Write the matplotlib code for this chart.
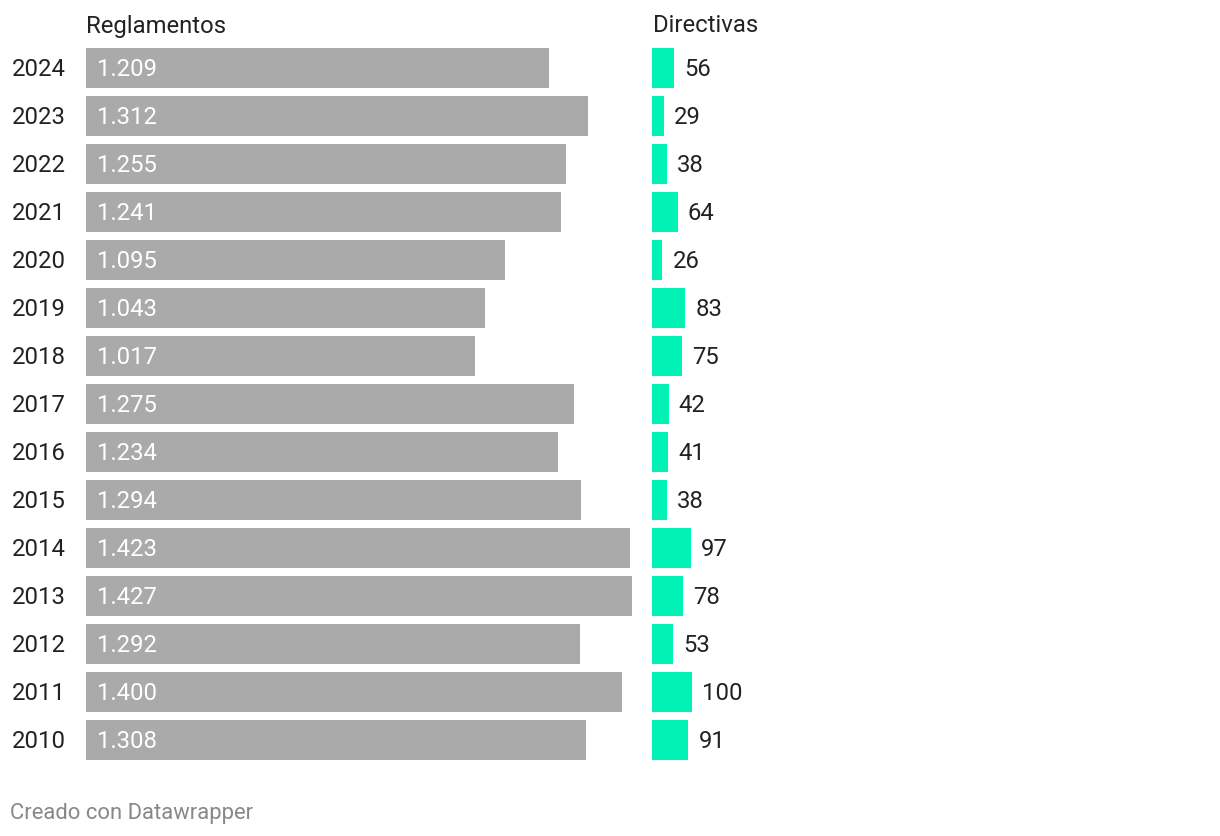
import matplotlib
matplotlib.use("Agg")
import matplotlib.pyplot as plt

years = ["2024", "2023", "2022", "2021", "2020", "2019", "2018", "2017",
         "2016", "2015", "2014", "2013", "2012", "2011", "2010"]
reglamentos = [1209, 1312, 1255, 1241, 1095, 1043, 1017, 1275,
               1234, 1294, 1423, 1427, 1292, 1400, 1308]
directivas = [56, 29, 38, 64, 26, 83, 75, 42, 41, 38, 97, 78, 53, 100, 91]

plt.rcParams['font.family'] = ['Roboto', 'DejaVu Sans']

W, H = 1220, 836
fig = plt.figure(figsize=(W / 100, H / 100), dpi=100)

def px_axes(x0, x1, y0, y1):
    # pixel box (top-left origin) -> figure axes
    return fig.add_axes([x0 / W, 1 - y1 / H, (x1 - x0) / W, (y1 - y0) / H])

pos = list(range(len(years)))
fs = 17.2
dy = -0.8  # nudge text down a bit (points)

# reglamentos
ax1 = px_axes(86, 632, 44, 764)
ax1.barh(pos, reglamentos, height=40 / 48, color="#aaaaaa")
ax1.set_xlim(0, max(reglamentos))
ax1.set_ylim(len(years) - 0.5, -0.5)
for i, v in enumerate(reglamentos):
    lbl = f"{v / 1000:.3f}"
    ax1.annotate(lbl, (0, i), xytext=(11 * 0.72, dy), textcoords="offset points",
                 ha="left", va="center", fontsize=fs, color="#ffffff")
    ax1.annotate(years[i], (0, i), xytext=(-74 * 0.72, dy), textcoords="offset points",
                 ha="left", va="center", fontsize=fs, color="#222222",
                 annotation_clip=False)
ax1.axis("off")

# directivas
ax2 = px_axes(652, 692, 44, 764)
ax2.barh(pos, directivas, height=40 / 48, color="#00f2b4")
ax2.set_xlim(0, 100)
ax2.set_ylim(len(years) - 0.5, -0.5)
for i, v in enumerate(directivas):
    ax2.annotate(str(v), (v, i), xytext=(10 * 0.72, dy), textcoords="offset points",
                 ha="left", va="center", fontsize=fs, color="#222222",
                 annotation_clip=False)
ax2.axis("off")

fig.text(86 / W, 1 - 26 / H, "Reglamentos", ha="left", va="center",
         fontsize=fs, color="#222222")
fig.text(653 / W, 1 - 26 / H, "Directivas", ha="left", va="center",
         fontsize=fs, color="#222222")
fig.text(10 / W, 1 - 814 / H, "Creado con Datawrapper", ha="left", va="center",
         fontsize=15.8, color="#888888")

fig.savefig("out.png", dpi=100)
